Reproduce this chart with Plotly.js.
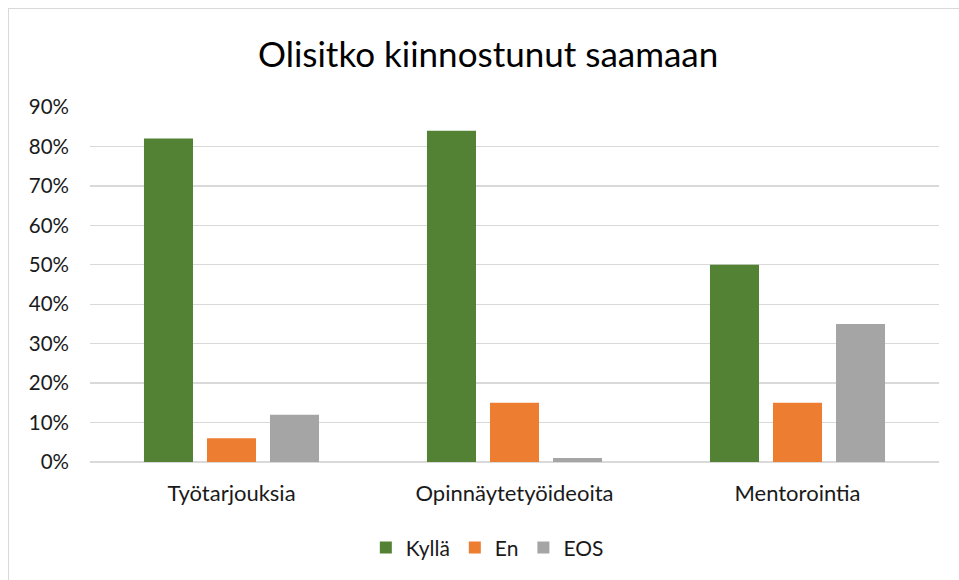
<!DOCTYPE html>
<html>
<head>
<meta charset="utf-8">
<script src="https://cdn.plot.ly/plotly-3.0.1.min.js"></script>
<style>
html,body{margin:0;padding:0;background:#fff;}
#frame{position:absolute;left:8px;top:8px;width:960px;height:580px;border:1px solid #d9d9d9;box-sizing:border-box;}
#chart{position:absolute;left:0;top:0;width:959px;height:580px;}
</style>
</head>
<body>
<div id="frame"></div>
<div id="chart"></div>
<script>
const categories = ["Työtarjouksia", "Opinnäytetyöideoita", "Mentorointia"];
const kylla = [0.82, 0.84, 0.50];
const en = [0.06, 0.15, 0.15];
const eos = [0.12, 0.01, 0.35];
const seriesNames = ["Kyllä", "En", "EOS"];
const colors = ["#548235", "#ED7D31", "#A5A5A5"];
const yTicks = [0, 0.1, 0.2, 0.3, 0.4, 0.5, 0.6, 0.7, 0.8, 0.9];
const yTickLabels = ["0%", "10%", "20%", "30%", "40%", "50%", "60%", "70%", "80%", "90%"];

const data = [kylla, en, eos].map((vals, i) => ({
  type: "bar",
  name: seriesNames[i],
  x: categories,
  y: vals,
  marker: {color: colors[i]},
  hoverinfo: "none"
}));

const font = "Lato, 'Open Sans', sans-serif";
const layout = {
  width: 959, height: 580,
  paper_bgcolor: "rgba(0,0,0,0)",
  plot_bgcolor: "rgba(0,0,0,0)",
  margin: {l: 90, r: 20, t: 107, b: 118},
  barmode: "group",
  bargap: 0.332,
  bargroupgap: 0.222,
  title: {text: "Olisitko kiinnostunut saamaan", font: {family: font, size: 35, color: "#000"}, x: 0.509, xanchor: "center", y: 0.905, yanchor: "middle"},
  xaxis: {
    showgrid: false, zeroline: false, showline: false, ticks: "",
    tickfont: {family: font, size: 22, color: "#1a1a1a"},
    ticklabelstandoff: 16
  },
  yaxis: {
    range: [0, 0.9], tickvals: yTicks, ticktext: yTickLabels,
    showgrid: true, gridcolor: "#d9d9d9", gridwidth: 1.3,
    zeroline: true, zerolinecolor: "#d9d9d9", zerolinewidth: 1.3,
    showline: false, ticks: "",
    tickfont: {family: font, size: 20.5, color: "#1a1a1a"},
    ticklabelstandoff: 20
  },
  legend: {orientation: "h", x: 0.468, xanchor: "center", y: -0.242, yanchor: "middle",
    font: {family: font, size: 21, color: "#1a1a1a"}, itemwidth: 30, traceorder: "normal"},
  showlegend: true
};
Plotly.newPlot("chart", data, layout, {displayModeBar: false, staticPlot: true});
</script>
</body>
</html>
